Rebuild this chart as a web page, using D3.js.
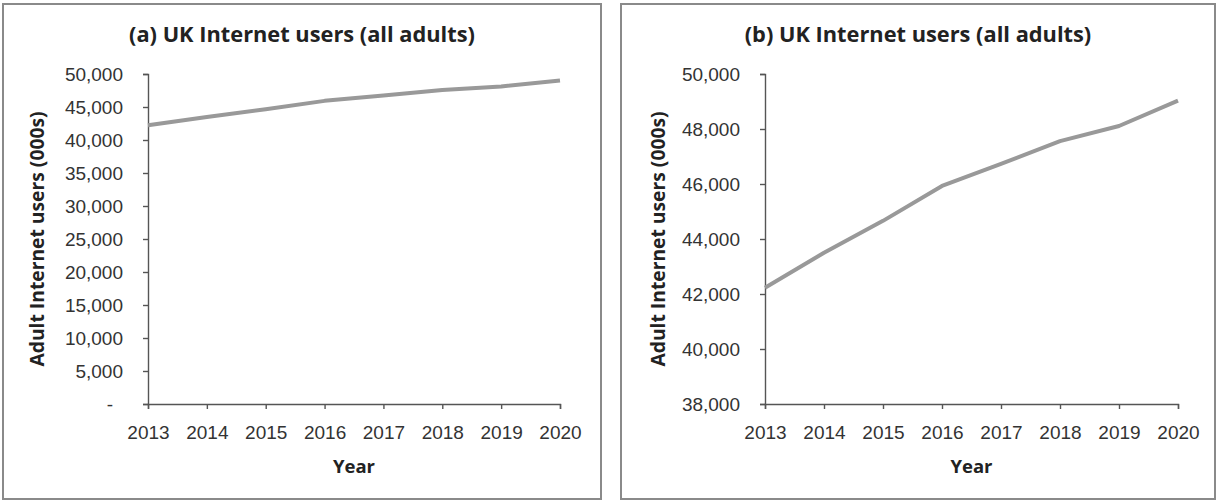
<!DOCTYPE html>
<html>
<head>
<meta charset="utf-8">
<script src="https://cdn.jsdelivr.net/npm/d3@7"></script>
<style>
  html, body { margin: 0; padding: 0; background: #fff; }
  svg { display: block; font-family: "Open Sans", "Noto Sans", sans-serif; }
</style>
</head>
<body>
<svg id="chart" width="1219" height="501"></svg>
<script>
// UK adult internet users, thousands
const years = [2013, 2014, 2015, 2016, 2017, 2018, 2019, 2020];
const users = [42230, 43500, 44660, 45930, 46730, 47560, 48110, 49030];

const panelTitles = ["(a) UK Internet users (all adults)", "(b) UK Internet users (all adults)"];
const yTicksA = [0, 5000, 10000, 15000, 20000, 25000, 30000, 35000, 40000, 45000, 50000];
const yTicksB = [38000, 40000, 42000, 44000, 46000, 48000, 50000];
const xTitle = "Year";
const yTitle = "Adult Internet users (000s)";

const svg = d3.select("#chart");
const fmt = d3.format(",");

const panels = [
  { x0: 3, x1: 601, axisX: 148, right: 560, domain: [0, 50000], ticks: yTicksA,
    tickFmt: d => d === 0 ? "-" : fmt(d), title: panelTitles[0], yTitleX: 37 },
  { x0: 621, x1: 1215, axisX: 765, right: 1178, domain: [38000, 50000], ticks: yTicksB,
    tickFmt: d => fmt(d), title: panelTitles[1], yTitleX: 658 }
];

const plotTop = 74, plotBottom = 404;
const textColor = "#333";
const axisColor = "#555";

panels.forEach(p => {
  // panel frame
  svg.append("rect")
    .attr("x", p.x0).attr("y", 4)
    .attr("width", p.x1 - p.x0).attr("height", 495)
    .attr("fill", "#fff").attr("stroke", "#8a8a8a").attr("stroke-width", 2);

  const x = d3.scaleLinear().domain([years[0], years[years.length - 1]]).range([p.axisX, p.right]);
  const y = d3.scaleLinear().domain(p.domain).range([plotBottom, plotTop]);

  const g = svg.append("g");

  // y axis
  const ya = g.append("g")
    .attr("transform", `translate(${p.axisX},0)`)
    .call(d3.axisLeft(y).tickValues(p.ticks).tickFormat(p.tickFmt).tickSizeOuter(0).tickSize(5).tickPadding(20));
  ya.select(".domain").attr("stroke", axisColor).attr("stroke-width", 1.4);
  ya.selectAll(".tick line").attr("stroke", axisColor).attr("stroke-width", 1.4);
  ya.selectAll(".tick text").attr("fill", textColor).attr("font-size", 19).attr("dy", "0.34em");
  // accounting-style zero dash sits a little in from the number column
  ya.selectAll(".tick text").filter(d => d === 0).attr("dx", -10);

  // x axis
  const xa = g.append("g")
    .attr("transform", `translate(0,${plotBottom})`)
    .call(d3.axisBottom(x).tickValues(years).tickFormat(d3.format("d")).tickSizeOuter(0).tickSize(5).tickPadding(16.5));
  xa.select(".domain").attr("stroke", axisColor).attr("stroke-width", 1.4);
  xa.selectAll(".tick line").attr("stroke", axisColor).attr("stroke-width", 1.4);
  xa.selectAll(".tick text").attr("fill", textColor).attr("font-size", 19);

  // series line
  const line = d3.line().x((d, i) => x(years[i])).y(d => y(d));
  g.append("path")
    .datum(users)
    .attr("d", line)
    .attr("fill", "none")
    .attr("stroke", "#999")
    .attr("stroke-width", 4)
    .attr("stroke-linejoin", "round");

  // title
  g.append("text")
    .attr("x", (p.x0 + p.x1) / 2).attr("y", 42)
    .attr("text-anchor", "middle")
    .attr("font-size", 21.8).attr("font-weight", "bold")
    .attr("fill", "#222")
    .text(p.title);

  // x axis title
  g.append("text")
    .attr("x", (p.axisX + p.right) / 2).attr("y", 473)
    .attr("text-anchor", "middle")
    .attr("font-size", 18.5).attr("font-weight", "bold")
    .attr("fill", "#222")
    .text(xTitle);

  // y axis title
  g.append("text")
    .attr("transform", `translate(${p.yTitleX},${(plotTop + plotBottom) / 2}) rotate(-90)`)
    .attr("text-anchor", "middle")
    .attr("dy", "0.35em")
    .attr("font-size", 19.3).attr("font-weight", "bold")
    .attr("fill", "#222")
    .text(yTitle);
});
</script>
</body>
</html>
